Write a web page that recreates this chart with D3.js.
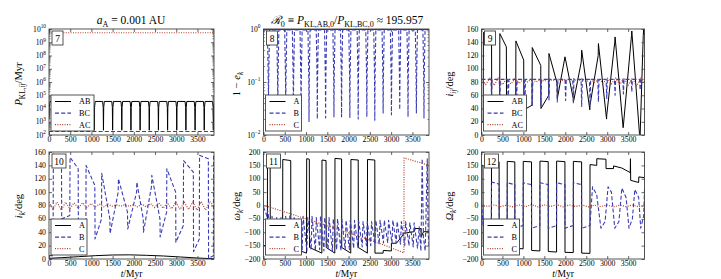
<!DOCTYPE html>
<html><head><meta charset="utf-8">
<script src="https://cdn.jsdelivr.net/npm/d3@7"></script>
<style>
body{margin:0;background:#fff}
svg{display:block}
text{font-family:"Liberation Serif","Times New Roman",serif;fill:#000}
</style></head>
<body><svg id="c" width="721" height="279"></svg>
<script>
// ---------------- DATA ----------------
const tDomain = [0, 3890];
const xTickVals = [0, 500, 1000, 1500, 2000, 2500, 3000, 3500];

// Panel 7: P_KL,ij / Myr
const pklAC = [[0, 5.2e9], [3890, 5.2e9]];
const pklBC = [[0, 185], [3890, 185]];
const pklAB = [[0,1500],[8,1.2e4],[22,3.4e4],
[184,3.4e4],[198,1.2e4],[204,230],[210,1.2e4],[224,3.4e4],
[400,3.4e4],[414,1.2e4],[420,230],[426,1.2e4],[440,3.4e4],
[616,3.4e4],[630,1.2e4],[636,230],[642,1.2e4],[656,3.4e4],
[832,3.4e4],[846,1.2e4],[852,230],[858,1.2e4],[872,3.4e4],
[1048,3.4e4],[1062,1.2e4],[1068,230],[1074,1.2e4],[1088,3.4e4],
[1264,3.4e4],[1278,1.2e4],[1284,230],[1290,1.2e4],[1304,3.4e4],
[1480,3.4e4],[1494,1.2e4],[1500,230],[1506,1.2e4],[1520,3.4e4],
[1696,3.4e4],[1710,1.2e4],[1716,230],[1722,1.2e4],[1736,3.4e4],
[1912,3.4e4],[1926,1.2e4],[1932,230],[1938,1.2e4],[1952,3.4e4],
[2128,3.4e4],[2142,1.2e4],[2148,230],[2154,1.2e4],[2168,3.4e4],
[2344,3.4e4],[2358,1.2e4],[2364,230],[2370,1.2e4],[2384,3.4e4],
[2560,3.4e4],[2574,1.2e4],[2580,230],[2586,1.2e4],[2600,3.4e4],
[2776,3.4e4],[2790,1.2e4],[2796,230],[2802,1.2e4],[2816,3.4e4],
[2992,3.4e4],[3006,1.2e4],[3012,230],[3018,1.2e4],[3032,3.4e4],
[3208,3.4e4],[3222,1.2e4],[3228,230],[3234,1.2e4],[3248,3.4e4],
[3424,3.4e4],[3438,1.2e4],[3444,230],[3450,1.2e4],[3464,3.4e4],
[3640,3.4e4],[3654,1.2e4],[3660,230],[3666,1.2e4],[3680,3.4e4],
[3856,3.4e4],[3870,1.2e4],[3876,230],[3882,1.2e4],[3890,2.5e4]];

// Panel 8: 1 - e_k
const omeA = [[0, 0.985], [3890, 0.985]];
const omeC = [[0, 0.996], [3890, 0.996]];
const omeB = [[0,0.96],
[92,0.96],[111,0.12],[117,0.05],[123,0.12],[142,0.96],
[311,0.96],[330,0.12],[336,0.035],[342,0.12],[361,0.96],
[498,0.96],[517,0.12],[523,0.03],[529,0.12],[548,0.96],
[678,0.96],[697,0.12],[703,0.025],[709,0.12],[728,0.96],
[858,0.96],[877,0.12],[883,0.022],[889,0.12],[908,0.96],
[1045,0.96],[1064,0.12],[1070,0.018],[1076,0.12],[1095,0.96],
[1240,0.96],[1259,0.12],[1265,0.02],[1271,0.12],[1290,0.96],
[1435,0.96],[1454,0.12],[1460,0.021],[1466,0.12],[1485,0.96],
[1631,0.96],[1650,0.12],[1656,0.022],[1662,0.12],[1681,0.96],
[1810,0.96],[1829,0.12],[1835,0.022],[1841,0.12],[1860,0.96],
[2005,0.96],[2024,0.12],[2030,0.021],[2036,0.12],[2055,0.96],
[2201,0.96],[2220,0.12],[2226,0.02],[2232,0.12],[2251,0.96],
[2404,0.96],[2423,0.12],[2429,0.022],[2435,0.12],[2454,0.96],
[2591,0.96],[2610,0.12],[2616,0.019],[2622,0.12],[2641,0.96],
[2787,0.96],[2806,0.12],[2812,0.026],[2818,0.12],[2837,0.96],
[2982,0.96],[3001,0.12],[3007,0.024],[3013,0.12],[3032,0.96],
[3177,0.96],[3196,0.12],[3202,0.03],[3208,0.12],[3227,0.96],
[3372,0.96],[3391,0.12],[3397,0.022],[3403,0.12],[3422,0.96],
[3568,0.96],[3587,0.12],[3593,0.026],[3599,0.12],[3618,0.96],
[3747,0.96],[3766,0.12],[3772,0.021],[3778,0.12],[3797,0.96],[3890,0.96]];

// Panel 9: i_ij / deg
const iAB = [[0,20],[40,20],[45,155],[240,140],[245,15],[433,20],[438,153],[593,133],[598,25],
[816,30],[821,142],[1007,113],[1012,38],[1206,45],[1211,132],[1414,105],[1419,40],
[1605,60],[1610,123],[1805,78],[1810,55],[1993,118],[2190,55],[2195,50],[2380,110],[2391,128],
[2585,38],[2590,45],[2785,120],[2790,138],[2985,24],[2989,30],[3180,140],[3188,148],
[3380,11],[3387,15],[3580,150],[3587,157],[3770,2],[3786,0],[3860,150],[3870,159],[3890,150]];
const iBC = [[0,84],[224,84],[239,60],[254,84],[423,84],[438,55],[453,84],[623,84],[638,50],[653,84],
[822,84],[837,45],[852,84],[1021,84],[1036,45],[1051,84],[1196,84],[1211,43],[1226,84],
[1404,84],[1419,45],[1434,84],[1595,84],[1610,53],[1625,84],[1794,84],[1809,50],[1824,84],
[1993,84],[2008,52],[2023,84],[2177,84],[2192,48],[2207,84],[2376,84],[2391,43],[2406,84],
[2575,84],[2590,45],[2605,84],[2775,84],[2790,50],[2805,84],[2974,84],[2989,55],[3004,84],
[3173,84],[3188,60],[3203,84],[3372,84],[3387,62],[3402,84],[3572,84],[3587,65],[3602,84],
[3771,84],[3786,68],[3801,84],[3890,84]];
const iAC = [[0,85],[100,76],[200,86],[300,75],[400,86],[500,76],[600,85],[700,77],[800,85],[900,78],
[1000,84],[1100,80],[1200,85],[1300,80],[1400,84],[1500,81],[1600,85],[1700,82],[1800,85],[1900,82],
[2000,84],[2100,82],[2200,85],[2300,81],[2400,85],[2500,80],[2600,85],[2700,79],[2800,85],[2900,78],
[3000,86],[3100,77],[3200,86],[3300,76],[3400,86],[3500,75],[3600,86],[3700,74],[3800,86],[3890,80]];

// Panel 10: i_k / deg
const incA = [[0,1],[300,2],[700,3.5],[1100,5],[1500,6],[1900,6.2],[2300,5.5],[2700,4.5],[3100,3],[3500,1.5],[3890,0.3]];
const incB = [[0,5],[97,5],[102,157],[294,145],[299,60],[490,65],[496,152],[688,135],[693,42],
[870,55],[874,140],[1080,110],[1086,30],[1238,60],[1243,128],[1435,60],[1440,38],[1632,100],
[1637,120],[1850,70],[1857,45],[2065,100],[2070,115],[2222,60],[2227,40],[2420,110],[2424,125],
[2616,60],[2621,33],[2773,70],[2778,135],[2986,100],[2991,25],[3167,50],[3172,147],[3403,130],
[3408,11],[3544,30],[3549,155],[3757,150],[3762,1],[3875,5],[3880,157],[3890,157]];
const incC = [[0,85],[90,74],[190,85],[290,73],[390,85],[490,75],[590,84],[690,76],[790,84],[890,77],
[990,83],[1090,78],[1190,82],[1290,78],[1390,82],[1490,79],[1590,81],[1690,79],[1790,81],[1890,79],
[1990,81],[2090,78],[2190,82],[2290,78],[2390,83],[2490,77],[2590,84],[2690,76],[2790,84],[2890,75],
[2990,85],[3090,74],[3190,85],[3290,74],[3390,85],[3490,73],[3590,86],[3690,73],[3790,86],[3890,78]];

// Panel 11: omega_k / deg
const omA = [[0,-150],[90,-150],[94,172],[156,170],[160,-160],[449,-165],[453,172],[640,168],[644,-157],
[1011,-178],[1015,175],[1077,173],[1081,-157],[1371,-178],[1375,170],[1470,168],[1474,-157],
[1676,-178],[1680,176],[1835,174],[1839,-157],[2051,-178],[2055,172],[2226,170],[2230,-157],
[2441,-178],[2445,172],[2616,170],[2620,-178],[2812,-178],[2815,-168],[3005,-170],[3007,-141],
[3124,-141],[3280,-110],[3290,-104],[3540,-98],[3554,-86],[3700,-86],[3710,-117],[3760,-98],[3890,-98]];
const omB = [[0,-5],[80,-40],[100,-20],[180,-120],[200,-40],[290,-150],[310,-45],[390,-160],[410,-45],
[500,-165],[520,-40],[600,-160],[620,-35],[700,-165],[720,-40],[810,-170],[830,-45],[910,-165],[930,-40],
[1020,-170],[1040,-45],[1120,-165],[1140,-40],[1220,-170],[1240,-45],[1320,-165],[1340,-40],[1420,-170],
[1440,-45],[1520,-165],[1540,-45],[1620,-170],[1640,-50],[1720,-165],[1740,-50],[1820,-170],[1840,-50],
[1920,-165],[1940,-55],[2020,-165],[2040,-55],[2120,-160],[2140,-55],[2220,-160],[2240,-60],[2320,-155],
[2340,-60],[2420,-150],[2440,-60],[2520,-150],[2540,-60],[2620,-145],[2640,-55],[2720,-145],[2740,-55],
[2820,-140],[2840,-55],[2920,-140],[2940,-55],[3020,-140],[3040,-55],[3120,-140],[3140,-60],[3220,-145],
[3240,-60],[3320,-150],[3340,-60],[3420,-150],[3440,-65],[3520,-155],[3540,-65],[3620,-160],[3660,-80],
[3700,-170],[3730,175],[3760,-120],[3800,-170],[3850,175],[3870,-100],[3890,-150]];
const omC = [[0,1],[300,-14],[600,-29],[900,-45],[1200,-60],[1500,-76],[1800,-92],[2100,-108],
[2400,-124],[2700,-140],[3000,-158],[3300,-177],[3304,178],[3600,164],[3890,150]];

// Panel 12: Omega_k / deg
const OmA = [[0,150],[35,150],[40,-155],[235,-155],[239,165],[420,163],[422,-160],[612,-162],[614,165],
[795,163],[797,-160],[994,-162],[996,165],[1194,163],[1196,-168],[1393,-170],[1395,166],[1592,164],
[1594,-172],[1791,-174],[1793,166],[1991,164],[1993,-175],[2190,-176],[2192,165],[2389,163],
[2391,-178],[2588,-179],[2590,153],[2750,150],[2752,175],[2970,173],[2972,138],[3150,138],[3152,148],
[3350,140],[3550,123],[3555,175],[3560,94],[3750,86],[3755,107],[3890,104]];
const OmB = [[0,10],[40,-80],[235,-70],[239,88],[420,80],[422,-85],[612,-75],[614,85],[795,78],[797,-85],
[994,-75],[996,85],[1194,78],[1196,-85],[1393,-75],[1395,85],[1592,78],[1594,-85],[1791,-75],[1793,85],
[1991,78],[1993,-85],[2190,-75],[2192,85],[2389,78],[2391,-85],[2588,-75],[2650,70],[2750,40],[2850,-85],
[2950,-60],[3020,70],[3100,50],[3180,-85],[3280,-60],[3350,65],[3450,30],[3520,-85],[3600,-50],[3660,60],
[3750,30],[3800,-85],[3870,-40],[3890,60]];
const OmC = [[0,0],[150,-3],[300,2],[450,-4],[600,1],[750,-5],[900,2],[1050,-4],[1200,3],[1350,-5],
[1500,2],[1650,-4],[1800,3],[1950,-5],[2100,2],[2250,-4],[2400,2],[2550,-5],[2700,1],[2850,-4],
[3000,2],[3150,-5],[3300,1],[3450,-4],[3600,2],[3750,-5],[3890,0]];

// ---------------- DRAWING ----------------
const svg = d3.select('#c');
const colLeft = [49, 263.5, 481.5], colW = [165, 165.5, 163];
const rowTop = [29, 152], rowH = [106, 107];
const STY = {
  solid: {stroke:'#000', w:1.0, dash:null},
  dash:  {stroke:'#3b3bb5', w:1.1, dash:'4,2.2'},
  dot:   {stroke:'#b0402c', w:1.2, dash:'1,1.4'}
};

function mtext(sel, x, y, parts, size, anchor, rot) {
  const t = sel.append('text').attr('x', x).attr('y', y).attr('font-size', size)
    .attr('text-anchor', anchor || 'start');
  if (rot) t.attr('transform', `rotate(${rot},${x},${y})`);
  let cur = 0;
  parts.forEach(p => {
    const s = p[0], f = p[1] || '';
    const target = f.includes('b') ? size * 0.28 : (f.includes('p') ? -size * 0.42 : 0);
    const ts = t.append('tspan').text(s).attr('dy', (target - cur).toFixed(2));
    cur = target;
    if (f.includes('b') || f.includes('p')) ts.attr('font-size', size * 0.7);
    if (f.includes('i')) ts.attr('font-style', 'italic');
  });
  return t;
}

const supExp = e => (e < 0 ? '\u2212' + (-e) : '' + e);
const linFmt = v => (v < 0 ? '\u2212' + (-v) : '' + v);

const panels = [
  {num:'7', col:0, row:0, log:true, dom:[1e2,1e10], ticks:d3.range(2,11).map(e=>Math.pow(10,e)),
   series:[[pklAB,'solid'],[pklBC,'dash'],[pklAC,'dot']], legend:['AB','BC','AC'],
   ylab:[['P','i'],['KL,','b'],['ij','bi'],['/Myr']]},
  {num:'8', col:1, row:0, log:true, dom:[1e-2,1], ticks:[1e-2,1e-1,1],
   series:[[omeA,'solid'],[omeB,'dash'],[omeC,'dot']], legend:['A','B','C'],
   ylab:[['1 \u2212 '],['e','i'],['k','bi']]},
  {num:'9', col:2, row:0, log:false, dom:[0,160], ticks:d3.range(0,161,20),
   series:[[iAB,'solid'],[iBC,'dash'],[iAC,'dot']], legend:['AB','BC','AC'],
   ylab:[['i','i'],['ij','bi'],['/deg']]},
  {num:'10', col:0, row:1, log:false, dom:[0,160], ticks:d3.range(0,161,20),
   series:[[incA,'solid'],[incB,'dash'],[incC,'dot']], legend:['A','B','C'],
   ylab:[['i','i'],['k','bi'],['/deg']]},
  {num:'11', col:1, row:1, log:false, dom:[-200,200], ticks:d3.range(-200,201,50),
   series:[[omA,'solid'],[omB,'dash'],[omC,'dot']], legend:['A','B','C'],
   ylab:[['\u03c9','i'],['k','bi'],['/deg']]},
  {num:'12', col:2, row:1, log:false, dom:[-200,200], ticks:d3.range(-200,201,50),
   series:[[OmA,'solid'],[OmB,'dash'],[OmC,'dot']], legend:['A','B','C'],
   ylab:[['\u03a9','i'],['k','bi'],['/deg']]}
];

const ylabX = [22, 240, 453];
const ylabY = [84, 206];

panels.forEach((P, idx) => {
  const L = colLeft[P.col], T = rowTop[P.row], W = colW[P.col], H = rowH[P.row];
  const x = d3.scaleLinear().domain(tDomain).range([L, L + W]);
  const y = (P.log ? d3.scaleLog() : d3.scaleLinear()).domain(P.dom).range([T + H, T]);
  const g = svg.append('g');
  const cid = 'clip' + idx;
  svg.append('clipPath').attr('id', cid).append('rect').attr('x', L).attr('y', T).attr('width', W).attr('height', H);

  const line = d3.line().x(d => x(d[0])).y(d => y(d[1]));
  P.series.forEach(([data, st]) => {
    const s = STY[st];
    g.append('path').attr('clip-path', `url(#${cid})`).attr('d', line(data))
      .attr('fill', 'none').attr('stroke', s.stroke).attr('stroke-width', s.w)
      .attr('stroke-dasharray', s.dash).attr('stroke-linejoin', 'round');
  });

  g.append('rect').attr('x', L).attr('y', T).attr('width', W).attr('height', H)
    .attr('fill', 'none').attr('stroke', '#404040').attr('stroke-width', 0.9);

  const xAxB = d3.axisBottom(x).tickValues(xTickVals).tickSize(-3).tickPadding(3).tickFormat(d => d);
  const gx = g.append('g').attr('transform', `translate(0,${T + H})`).call(xAxB);
  const xAxT = d3.axisTop(x).tickValues(xTickVals).tickSize(-3).tickFormat('');
  const gxt = g.append('g').attr('transform', `translate(0,${T})`).call(xAxT);
  [gx, gxt].forEach(a => { a.select('.domain').remove(); a.selectAll('line').attr('stroke', '#404040').attr('stroke-width', 0.8); });
  gx.selectAll('text').attr('font-size', 7.8).attr('font-family', '"Liberation Serif",serif').attr('dy', '0.55em');

  const yAxL = d3.axisLeft(y).tickValues(P.ticks).tickSize(-3).tickFormat('');
  const yAxR = d3.axisRight(y).tickValues(P.ticks).tickSize(-3).tickFormat('');
  const gyl = g.append('g').attr('transform', `translate(${L},0)`).call(yAxL);
  const gyr = g.append('g').attr('transform', `translate(${L + W},0)`).call(yAxR);
  [gyl, gyr].forEach(a => { a.select('.domain').remove(); a.selectAll('line').attr('stroke', '#404040').attr('stroke-width', 0.8); });
  if (P.log) {
    const minors = [];
    const e0 = Math.round(Math.log10(P.dom[0])), e1 = Math.round(Math.log10(P.dom[1]));
    for (let e = e0; e < e1; e++) for (let m = 2; m <= 9; m++) minors.push(m * Math.pow(10, e));
    const mL = d3.axisLeft(y).tickValues(minors).tickSize(-1.6).tickFormat('');
    const mR = d3.axisRight(y).tickValues(minors).tickSize(-1.6).tickFormat('');
    [g.append('g').attr('transform', `translate(${L},0)`).call(mL), g.append('g').attr('transform', `translate(${L + W},0)`).call(mR)]
      .forEach(a => { a.select('.domain').remove(); a.selectAll('line').attr('stroke', '#404040').attr('stroke-width', 0.6); });
    P.ticks.forEach(v => {
      mtext(g, L - 3, y(v) + 2.6, [['10'], [supExp(Math.round(Math.log10(v))), 'p']], 7.6, 'end');
    });
  } else {
    P.ticks.forEach(v => {
      g.append('text').attr('x', L - 3).attr('y', y(v) + 2.6).attr('font-size', 7.8)
        .attr('text-anchor', 'end').text(linFmt(v));
    });
  }

  mtext(g, ylabX[P.col], ylabY[P.row], P.ylab, 10.5, 'middle', -90);

  const nw = P.num.length > 1 ? 14 : 11;
  g.append('rect').attr('x', L + 3).attr('y', T + 2).attr('width', nw).attr('height', 14)
    .attr('fill', '#fff').attr('stroke', '#404040').attr('stroke-width', 0.9);
  g.append('text').attr('x', L + 3 + nw / 2).attr('y', T + 12.5).attr('font-size', 9.5)
    .attr('text-anchor', 'middle').text(P.num);

  const lw = P.legend[0].length > 1 ? 43 : 36;
  const lx = L + 2, ly = T + H - 4 - 36;
  g.append('rect').attr('x', lx).attr('y', ly).attr('width', lw).attr('height', 36)
    .attr('fill', '#fff').attr('stroke', '#404040').attr('stroke-width', 0.9);
  P.legend.forEach((lab, i) => {
    const st = STY[P.series[i][1]];
    const yy = ly + 6.5 + i * 11.6;
    g.append('line').attr('x1', lx + 4).attr('x2', lx + 20).attr('y1', yy).attr('y2', yy)
      .attr('stroke', st.stroke).attr('stroke-width', st.w).attr('stroke-dasharray', st.dash);
    g.append('text').attr('x', lx + 28).attr('y', yy + 2.8).attr('font-size', 8.2).text(lab);
  });
});

mtext(svg, 131, 24, [['a', 'i'], ['A', 'b'], [' = 0.001 AU']], 11.5, 'middle');
mtext(svg, 347, 24, [['\u211b', 'i'], ['0', 'b'], [' \u2261 '], ['P', 'i'], ['KL,AB,0', 'b'], ['/'], ['P', 'i'], ['KL,BC,0', 'b'], [' \u2248 195.957']], 11.5, 'middle');

[0, 1, 2].forEach(c => {
  const cx = colLeft[c] + colW[c] / 2;
  mtext(svg, cx, 277, [['t', 'i'], ['/Myr']], 9.5, 'middle');
});
</script></body></html>
